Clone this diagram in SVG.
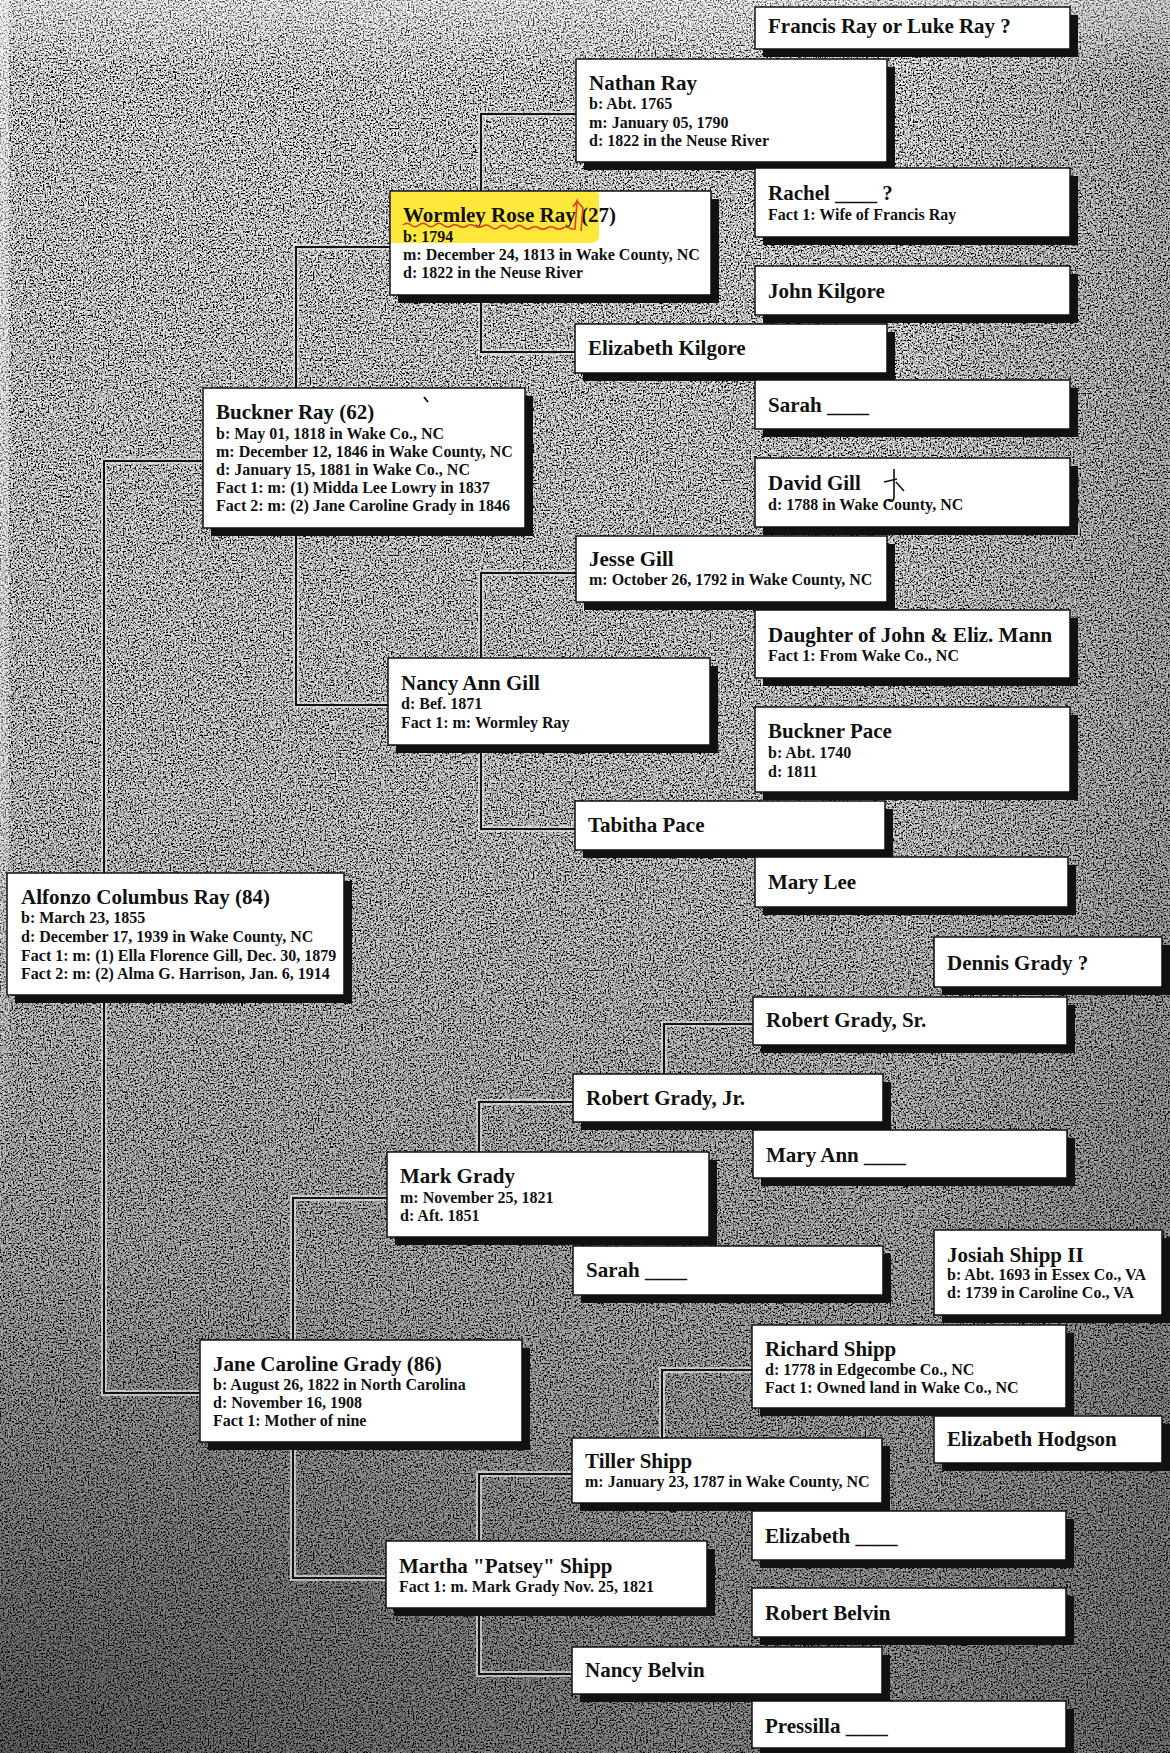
<svg xmlns="http://www.w3.org/2000/svg" width="1170" height="1753" viewBox="0 0 1170 1753">
<defs>
<filter id="grain" filterUnits="userSpaceOnUse" x="0" y="0" width="1170" height="1753">
<feTurbulence type="fractalNoise" baseFrequency="0.6" numOctaves="2" seed="11"/>
<feColorMatrix type="matrix" values="3.4 0 0 0 -1.15  3.4 0 0 0 -1.15  3.4 0 0 0 -1.15  0 0 0 0 1"/>
</filter>
<linearGradient id="shade" x1="0" y1="0" x2="0" y2="1">
<stop offset="0" stop-color="#000" stop-opacity="0.02"/>
<stop offset="0.45" stop-color="#000" stop-opacity="0.12"/>
<stop offset="1" stop-color="#000" stop-opacity="0.42"/>
</linearGradient>
<linearGradient id="toplight" x1="0" y1="0" x2="0" y2="1">
<stop offset="0" stop-color="#fff" stop-opacity="0.35"/>
<stop offset="1" stop-color="#fff" stop-opacity="0"/>
</linearGradient>
<linearGradient id="leftlight" x1="0" y1="0" x2="0" y2="1">
<stop offset="0" stop-color="#fff" stop-opacity="0.45"/>
<stop offset="0.7" stop-color="#fff" stop-opacity="0.3"/>
<stop offset="1" stop-color="#fff" stop-opacity="0"/>
</linearGradient>
<linearGradient id="rightdark" x1="0" y1="0" x2="1" y2="0">
<stop offset="0" stop-color="#000" stop-opacity="0"/>
<stop offset="1" stop-color="#000" stop-opacity="0.18"/>
</linearGradient>
<radialGradient id="corner" cx="0" cy="1" r="0.6">
<stop offset="0" stop-color="#000" stop-opacity="0.3"/>
<stop offset="1" stop-color="#000" stop-opacity="0"/>
</radialGradient>
<style>
.bx{fill:#fff;stroke:#111;stroke-width:1.5}
.sh{fill:#111}
text{font-family:"Liberation Serif","Times New Roman",serif;font-weight:bold;fill:#111}
.t{font-size:21px}
.s{font-size:16px}
.halo{fill:none;stroke:#e4e4e4;stroke-width:6;stroke-opacity:0.7}
.ln{fill:none;stroke:#111;stroke-width:2}
</style>
</defs>

<g id="background">
<rect x="0" y="0" width="1170" height="1753" fill="#999" filter="url(#grain)"/>
<rect x="0" y="0" width="1170" height="1753" fill="url(#shade)"/>
<rect x="900" y="0" width="270" height="1753" fill="url(#rightdark)"/>
<rect x="0" y="900" width="1170" height="853" fill="url(#corner)"/>
<rect x="0" y="0" width="1170" height="80" fill="url(#toplight)"/>
<rect x="0" y="0" width="9" height="1200" fill="url(#leftlight)"/>
</g>

<g id="connectors">
<path class="halo" d="M576,114 H481 V352 H575"/>
<path class="halo" d="M390,247 H296 V705 H388"/>
<path class="halo" d="M576,573 H481 V829 H575"/>
<path class="halo" d="M203,461 H104 V1393 H200"/>
<path class="halo" d="M753,1024 H664 V1074"/>
<path class="halo" d="M573,1102 H479 V1160"/>
<path class="halo" d="M387,1198 H293 V1578 H386"/>
<path class="halo" d="M752,1370 H662 V1438"/>
<path class="halo" d="M572,1474 H479 V1674 H572"/>
<path class="ln" d="M576,114 H481 V352 H575"/>
<path class="ln" d="M390,247 H296 V705 H388"/>
<path class="ln" d="M576,573 H481 V829 H575"/>
<path class="ln" d="M203,461 H104 V1393 H200"/>
<path class="ln" d="M753,1024 H664 V1074"/>
<path class="ln" d="M573,1102 H479 V1160"/>
<path class="ln" d="M387,1198 H293 V1578 H386"/>
<path class="ln" d="M752,1370 H662 V1438"/>
<path class="ln" d="M572,1474 H479 V1674 H572"/>
</g>

<g id="francis-ray">
<rect class="sh" x="763" y="15" width="315" height="42"/>
<rect class="bx" x="755" y="7" width="315" height="42"/>
<text class="t" x="768" y="33">Francis Ray or Luke Ray ?</text>
</g>

<g id="nathan-ray">
<rect class="sh" x="584" y="67" width="311" height="103"/>
<rect class="bx" x="576" y="59" width="311" height="103"/>
<text class="t" x="589" y="90">Nathan Ray</text>
<text class="s" x="589" y="109">b: Abt. 1765</text>
<text class="s" x="589" y="127.5">m: January 05, 1790</text>
<text class="s" x="589" y="146">d: 1822 in the Neuse River</text>
</g>

<g id="rachel">
<rect class="sh" x="763" y="176" width="315" height="69"/>
<rect class="bx" x="755" y="168" width="315" height="69"/>
<text class="t" x="768" y="200">Rachel ____ ?</text>
<text class="s" x="768" y="220">Fact 1: Wife of Francis Ray</text>
</g>

<g id="wormley-rose-ray">
<rect class="sh" x="398" y="199" width="321" height="104"/>
<rect class="bx" x="390" y="191" width="321" height="104"/>
<path d="M391,192 H596 Q599,192 599,196 V236 Q599,243 590,243 H391 Z" fill="#ffe83a"/>
<text class="t" x="403" y="222">Wormley Rose Ray (27)</text>
<path d="M403,225 Q407,221.5 411,225 T419,225 T427,225 T435,225 T443,225 T451,226 T459,226 T467,226 T475,226 T483,226 T491,227 T499,227 T507,227 T515,227 T523,227 T531,228 T539,228 T547,228 T555,228 T563,228 T571,229 L575,229 L577,201 L573,207 M577,201 L583,208 L581,231" fill="none" stroke="#d8402a" stroke-width="1.6"/>
<text class="s" x="403" y="242">b: 1794</text>
<text class="s" x="403" y="260">m: December 24, 1813 in Wake County, NC</text>
<text class="s" x="403" y="278">d: 1822 in the Neuse River</text>
</g>

<g id="john-kilgore">
<rect class="sh" x="763" y="274" width="315" height="49"/>
<rect class="bx" x="755" y="266" width="315" height="49"/>
<text class="t" x="768" y="298">John Kilgore</text>
</g>

<g id="elizabeth-kilgore">
<rect class="sh" x="583" y="332" width="312" height="49"/>
<rect class="bx" x="575" y="324" width="312" height="49"/>
<text class="t" x="588" y="355">Elizabeth Kilgore</text>
</g>

<g id="sarah-1">
<rect class="sh" x="763" y="388" width="315" height="49"/>
<rect class="bx" x="755" y="380" width="315" height="49"/>
<text class="t" x="768" y="412">Sarah ____</text>
</g>

<g id="buckner-ray">
<rect class="sh" x="211" y="396" width="322" height="140"/>
<rect class="bx" x="203" y="388" width="322" height="140"/>
<path d="M424,397 L428,402" stroke="#111" stroke-width="2" fill="none"/>
<text class="t" x="216" y="419">Buckner Ray (62)</text>
<text class="s" x="216" y="439">b: May 01, 1818 in Wake Co., NC</text>
<text class="s" x="216" y="457">m: December 12, 1846 in Wake County, NC</text>
<text class="s" x="216" y="475">d: January 15, 1881 in Wake Co., NC</text>
<text class="s" x="216" y="493">Fact 1: m: (1) Midda Lee Lowry in 1837</text>
<text class="s" x="216" y="511">Fact 2: m: (2) Jane Caroline Grady in 1846</text>
</g>

<g id="david-gill">
<rect class="sh" x="763" y="466" width="315" height="69"/>
<rect class="bx" x="755" y="458" width="315" height="69"/>
<text class="t" x="768" y="490">David Gill</text>
<path d="M894,469 L894,498 Q893,503 888,500 M884,482 L897,479 M896,482 L904,491" fill="none" stroke="#111" stroke-width="1.6"/>
<text class="s" x="768" y="510">d: 1788 in Wake County, NC</text>
</g>

<g id="jesse-gill">
<rect class="sh" x="584" y="544" width="311" height="66"/>
<rect class="bx" x="576" y="536" width="311" height="66"/>
<text class="t" x="589" y="566">Jesse Gill</text>
<text class="s" x="589" y="585">m: October 26, 1792 in Wake County, NC</text>
</g>

<g id="daughter-of-john-mann">
<rect class="sh" x="763" y="618" width="315" height="68"/>
<rect class="bx" x="755" y="610" width="315" height="68"/>
<text class="t" x="768" y="642">Daughter of John &amp; Eliz. Mann</text>
<text class="s" x="768" y="661">Fact 1: From Wake Co., NC</text>
</g>

<g id="nancy-ann-gill">
<rect class="sh" x="396" y="666" width="322" height="87"/>
<rect class="bx" x="388" y="658" width="322" height="87"/>
<text class="t" x="401" y="690">Nancy Ann Gill</text>
<text class="s" x="401" y="709">d: Bef. 1871</text>
<text class="s" x="401" y="728">Fact 1: m: Wormley Ray</text>
</g>

<g id="buckner-pace">
<rect class="sh" x="763" y="715" width="315" height="85"/>
<rect class="bx" x="755" y="707" width="315" height="85"/>
<text class="t" x="768" y="738">Buckner Pace</text>
<text class="s" x="768" y="758">b: Abt. 1740</text>
<text class="s" x="768" y="777">d: 1811</text>
</g>

<g id="tabitha-pace">
<rect class="sh" x="583" y="809" width="310" height="49"/>
<rect class="bx" x="575" y="801" width="310" height="49"/>
<text class="t" x="588" y="832">Tabitha Pace</text>
</g>

<g id="mary-lee">
<rect class="sh" x="763" y="865" width="313" height="50"/>
<rect class="bx" x="755" y="857" width="313" height="50"/>
<text class="t" x="768" y="889">Mary Lee</text>
</g>

<g id="alfonzo-columbus-ray">
<rect class="sh" x="15" y="881" width="337" height="122"/>
<rect class="bx" x="7" y="873" width="337" height="122"/>
<text class="t" x="21" y="904">Alfonzo Columbus Ray (84)</text>
<text class="s" x="21" y="923">b: March 23, 1855</text>
<text class="s" x="21" y="942">d: December 17, 1939 in Wake County, NC</text>
<text class="s" x="21" y="960.5">Fact 1: m: (1) Ella Florence Gill, Dec. 30, 1879</text>
<text class="s" x="21" y="979">Fact 2: m: (2) Alma G. Harrison, Jan. 6, 1914</text>
</g>

<g id="dennis-grady">
<rect class="sh" x="942" y="945" width="228" height="50"/>
<rect class="bx" x="934" y="937" width="228" height="50"/>
<text class="t" x="947" y="970">Dennis Grady ?</text>
</g>

<g id="robert-grady-sr">
<rect class="sh" x="761" y="1005" width="314" height="48"/>
<rect class="bx" x="753" y="997" width="314" height="48"/>
<text class="t" x="766" y="1027">Robert Grady, Sr.</text>
</g>

<g id="robert-grady-jr">
<rect class="sh" x="581" y="1082" width="310" height="48"/>
<rect class="bx" x="573" y="1074" width="310" height="48"/>
<text class="t" x="586" y="1105">Robert Grady, Jr.</text>
</g>

<g id="mary-ann">
<rect class="sh" x="761" y="1138" width="314" height="48"/>
<rect class="bx" x="753" y="1130" width="314" height="48"/>
<text class="t" x="766" y="1162">Mary Ann ____</text>
</g>

<g id="mark-grady">
<rect class="sh" x="395" y="1160" width="322" height="85"/>
<rect class="bx" x="387" y="1152" width="322" height="85"/>
<text class="t" x="400" y="1183">Mark Grady</text>
<text class="s" x="400" y="1203">m: November 25, 1821</text>
<text class="s" x="400" y="1221">d: Aft. 1851</text>
</g>

<g id="josiah-shipp-ii">
<rect class="sh" x="942" y="1238" width="228" height="85"/>
<rect class="bx" x="934" y="1230" width="228" height="85"/>
<text class="t" x="947" y="1262">Josiah Shipp II</text>
<text class="s" x="947" y="1280">b: Abt. 1693 in Essex Co., VA</text>
<text class="s" x="947" y="1298">d: 1739 in Caroline Co., VA</text>
</g>

<g id="sarah-2">
<rect class="sh" x="581" y="1254" width="310" height="49"/>
<rect class="bx" x="573" y="1246" width="310" height="49"/>
<text class="t" x="586" y="1277">Sarah ____</text>
</g>

<g id="richard-shipp">
<rect class="sh" x="760" y="1333" width="314" height="83"/>
<rect class="bx" x="752" y="1325" width="314" height="83"/>
<text class="t" x="765" y="1356">Richard Shipp</text>
<text class="s" x="765" y="1375">d: 1778 in Edgecombe Co., NC</text>
<text class="s" x="765" y="1393">Fact 1: Owned land in Wake Co., NC</text>
</g>

<g id="jane-caroline-grady">
<rect class="sh" x="208" y="1348" width="322" height="102"/>
<rect class="bx" x="200" y="1340" width="322" height="102"/>
<text class="t" x="213" y="1371">Jane Caroline Grady (86)</text>
<text class="s" x="213" y="1390">b: August 26, 1822 in North Carolina</text>
<text class="s" x="213" y="1408">d: November 16, 1908</text>
<text class="s" x="213" y="1426">Fact 1: Mother of nine</text>
</g>

<g id="elizabeth-hodgson">
<rect class="sh" x="942" y="1424" width="228" height="47"/>
<rect class="bx" x="934" y="1416" width="228" height="47"/>
<text class="t" x="947" y="1446">Elizabeth Hodgson</text>
</g>

<g id="tiller-shipp">
<rect class="sh" x="580" y="1446" width="310" height="65"/>
<rect class="bx" x="572" y="1438" width="310" height="65"/>
<text class="t" x="585" y="1468">Tiller Shipp</text>
<text class="s" x="585" y="1487">m: January 23, 1787 in Wake County, NC</text>
</g>

<g id="elizabeth-2">
<rect class="sh" x="760" y="1519" width="314" height="49"/>
<rect class="bx" x="752" y="1511" width="314" height="49"/>
<text class="t" x="765" y="1543">Elizabeth ____</text>
</g>

<g id="martha-patsey-shipp">
<rect class="sh" x="394" y="1549" width="321" height="67"/>
<rect class="bx" x="386" y="1541" width="321" height="67"/>
<text class="t" x="399" y="1573">Martha "Patsey" Shipp</text>
<text class="s" x="399" y="1592">Fact 1: m. Mark Grady Nov. 25, 1821</text>
</g>

<g id="robert-belvin">
<rect class="sh" x="760" y="1596" width="314" height="49"/>
<rect class="bx" x="752" y="1588" width="314" height="49"/>
<text class="t" x="765" y="1620">Robert Belvin</text>
</g>

<g id="nancy-belvin">
<rect class="sh" x="580" y="1655" width="310" height="47"/>
<rect class="bx" x="572" y="1647" width="310" height="47"/>
<text class="t" x="585" y="1677">Nancy Belvin</text>
</g>

<g id="pressilla">
<rect class="sh" x="760" y="1709" width="314" height="47"/>
<rect class="bx" x="752" y="1701" width="314" height="47"/>
<text class="t" x="765" y="1733">Pressilla ____</text>
</g>
</svg>
